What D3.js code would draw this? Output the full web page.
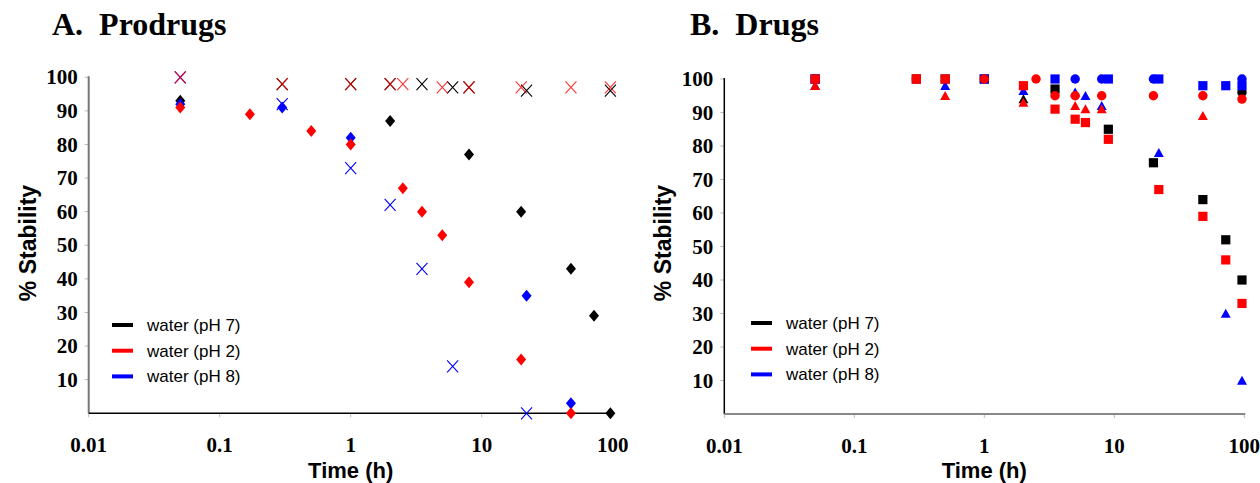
<!DOCTYPE html>
<html>
<head>
<meta charset="utf-8">
<script src="https://cdn.jsdelivr.net/npm/d3@7"></script>
<style>
  body { margin: 0; background: #fff; }
  svg { display: block; }
</style>
</head>
<body>
<svg id="chart"></svg>
<script>
// ---- data: [time (h), % stability] ----
// A. Prodrugs: diamonds and crosses
var diamondPH7 = [[0.05,93],[2,87],[8,77],[20,60],[48,43],[72,29],[96,0]];
var diamondPH8 = [[0.05,92],[0.3,91],[1,82],[22,35],[48,3]];
var diamondPH2 = [[0.05,91],[0.17,89],[0.5,84],[1,80],[2.5,67],[3.5,60],[5,53],[8,39],[20,16],[48,0]];
var crossPH7 = [[0.3,98],[1,98],[2,98],[3.5,98],[6,97],[8,97],[22,96],[96,96]];
var crossPH8 = [[0.05,100],[0.3,92],[1,73],[2,62],[3.5,43],[6,14],[22,0]];
var crossPH2 = [[0.05,100],[0.3,98],[1,98],[2,98],[2.5,98],[5,97],[8,97],[20,97],[48,97],[96,97]];

// B. Drugs: squares, circles and triangles
var squarePH7 = [[0.05,100],[0.3,100],[0.5,100],[1,100],[3.5,97],[9,85],[20,75],[48,64],[72,52],[96,40]];
var squarePH8 = [[0.05,100],[1,100],[3.5,100],[9,100],[22,100],[48,98],[72,98],[96,98]];
var squarePH2 = [[0.05,100],[0.3,100],[0.5,100],[2,98],[3.5,91],[5,88],[6,87],[9,82],[22,67],[48,59],[72,46],[96,33]];
var circlePH7 = [[96,96]];
var circlePH8 = [[5,100],[8,100],[20,100],[96,100]];
var circlePH2 = [[0.3,100],[1,100],[2.5,100],[3.5,95],[5,95],[8,95],[20,95],[48,95],[96,94]];
var trianglePH7 = [[2,94]];
var trianglePH8 = [[0.05,98],[0.5,98],[2,96.5],[5,96],[6,95],[8,92],[22,78],[72,30],[96,10]];
var trianglePH2 = [[0.05,98],[0.5,95],[2,93],[5,92],[6,91],[8,91],[48,89]];

var xTicks = [0.01, 0.1, 1, 10, 100];
var yTicks = [10, 20, 30, 40, 50, 60, 70, 80, 90, 100];
var legendLabels = ["water (pH 7)", "water (pH 2)", "water (pH 8)"];
var legendColors = ["#000", "#ff0000", "#0000ff"];

var width = 1260, height = 483;
var svg = d3.select("#chart").attr("width", width).attr("height", height);

var serif = "'Liberation Serif', 'Times New Roman', serif";
var sans = "'Liberation Sans', Arial, sans-serif";

function drawPanel(opt) {
  var x = d3.scaleLog().domain([0.01, 100]).range(opt.xRange);
  var y = d3.scaleLinear().domain([0, 100]).range(opt.yRange);
  var g = svg.append("g");

  // title
  g.append("text")
    .attr("x", opt.titleX).attr("y", 35)
    .style("font-family", serif).style("font-weight", "bold").style("font-size", "32px")
    .style("white-space", "pre")
    .text(opt.title);

  // tick marks (faint)
  g.selectAll(".ytick").data(yTicks).enter().append("line")
    .attr("x1", opt.xRange[0] - 4).attr("x2", opt.xRange[0])
    .attr("y1", function(d){ return y(d); }).attr("y2", function(d){ return y(d); })
    .style("stroke", "#bbb").style("stroke-width", 1);
  g.selectAll(".xtick").data(xTicks).enter().append("line")
    .attr("x1", function(d){ return x(d); }).attr("x2", function(d){ return x(d); })
    .attr("y1", opt.yRange[0]).attr("y2", opt.yRange[0] + 4)
    .style("stroke", "#bbb").style("stroke-width", 1);

  // axis lines
  g.append("line")
    .attr("x1", opt.xRange[0]).attr("x2", opt.xRange[0])
    .attr("y1", y(100) - 1).attr("y2", opt.yRange[0])
    .style("stroke", opt.leftColor).style("stroke-width", opt.leftWidth);
  g.append("line")
    .attr("x1", opt.xRange[0]).attr("x2", opt.xRange[1] + 1)
    .attr("y1", opt.yRange[0]).attr("y2", opt.yRange[0])
    .style("stroke", opt.bottomColor).style("stroke-width", opt.bottomWidth);

  // tick labels
  g.selectAll(".ylab").data(yTicks).enter().append("text")
    .attr("x", opt.xRange[0] - 11)
    .attr("y", function(d){ return y(d) + 7; })
    .attr("text-anchor", "end")
    .style("font-family", serif).style("font-weight", "bold").style("font-size", "21px")
    .text(function(d){ return d; });
  g.selectAll(".xlab").data(xTicks).enter().append("text")
    .attr("x", function(d){ return x(d); })
    .attr("y", opt.yRange[0] + 39)
    .attr("text-anchor", "middle")
    .style("font-family", serif).style("font-weight", "bold").style("font-size", "21px")
    .text(function(d){ return d; });

  // axis titles
  g.append("text")
    .attr("x", x(1)).attr("y", 478)
    .attr("text-anchor", "middle")
    .style("font-family", sans).style("font-weight", "bold").style("font-size", "22px")
    .text("Time (h)");
  g.append("text")
    .attr("transform", "translate(" + opt.yTitleX + "," + 243 + ") rotate(-90)")
    .attr("text-anchor", "middle")
    .style("font-family", sans).style("font-weight", "bold").style("font-size", "23px")
    .text("% Stability");

  // legend
  var leg = g.selectAll(".legend").data(legendLabels).enter().append("g");
  leg.append("line")
    .attr("x1", opt.legendX).attr("x2", opt.legendX + 21)
    .attr("y1", function(d, i){ return opt.legendY + i * 25.7; })
    .attr("y2", function(d, i){ return opt.legendY + i * 25.7; })
    .style("stroke", function(d, i){ return legendColors[i]; })
    .style("stroke-width", 4);
  leg.append("text")
    .attr("x", opt.legendX + 35)
    .attr("y", function(d, i){ return opt.legendY + i * 25.7 + 6; })
    .style("font-family", sans).style("font-size", "17px")
    .text(function(d){ return d; });

  return { g: g, x: x, y: y };
}

function addMarkers(p, data, shape, color) {
  var sel = p.g.append("g").selectAll("path").data(data).enter().append("path")
    .attr("transform", function(d){ return "translate(" + p.x(d[0]) + "," + p.y(d[1]) + ")"; });
  if (shape == "diamond") {
    sel.attr("d", "M0,-6L5,0L0,6L-5,0Z").style("fill", color);
  } else if (shape == "cross") {
    sel.attr("d", "M-5.5,-6L5.5,6M-5.5,6L5.5,-6")
      .style("fill", "none").style("stroke", color).style("stroke-width", 1.1)
      .style("opacity", color == "#ff0000" ? 0.8 : 1);
  } else if (shape == "square") {
    sel.attr("d", "M-4.6,-4.6H4.6V4.6H-4.6Z").style("fill", color);
  } else if (shape == "circle") {
    sel.attr("d", d3.symbol().type(d3.symbolCircle).size(70)).style("fill", color);
  } else if (shape == "triangle") {
    sel.attr("d", "M0,-4.8L5,4.2L-5,4.2Z").style("fill", color);
  }
}

var panelA = drawPanel({
  title: "A.  Prodrugs", titleX: 52,
  xRange: [88.7, 612.7], yRange: [413.3, 77.3],
  leftColor: "#777", leftWidth: 2, bottomColor: "#000", bottomWidth: 1.5,
  yTitleX: 36, legendX: 112, legendY: 325
});
addMarkers(panelA, crossPH8, "cross", "#0000ff");
addMarkers(panelA, crossPH7, "cross", "#000");
addMarkers(panelA, crossPH2, "cross", "#ff0000");
addMarkers(panelA, diamondPH7, "diamond", "#000");
addMarkers(panelA, diamondPH8, "diamond", "#0000ff");
addMarkers(panelA, diamondPH2, "diamond", "#ff0000");

var panelB = drawPanel({
  title: "B.  Drugs", titleX: 690,
  xRange: [724.3, 1244.3], yRange: [414, 79],
  leftColor: "#000", leftWidth: 1.5, bottomColor: "#888", bottomWidth: 2,
  yTitleX: 671, legendX: 751, legendY: 323
});
addMarkers(panelB, squarePH7, "square", "#000");
addMarkers(panelB, circlePH7, "circle", "#000");
addMarkers(panelB, trianglePH7, "triangle", "#000");
addMarkers(panelB, squarePH8, "square", "#0000ff");
addMarkers(panelB, circlePH8, "circle", "#0000ff");
addMarkers(panelB, trianglePH8, "triangle", "#0000ff");
addMarkers(panelB, squarePH2, "square", "#ff0000");
addMarkers(panelB, circlePH2, "circle", "#ff0000");
addMarkers(panelB, trianglePH2, "triangle", "#ff0000");
</script>
</body>
</html>
